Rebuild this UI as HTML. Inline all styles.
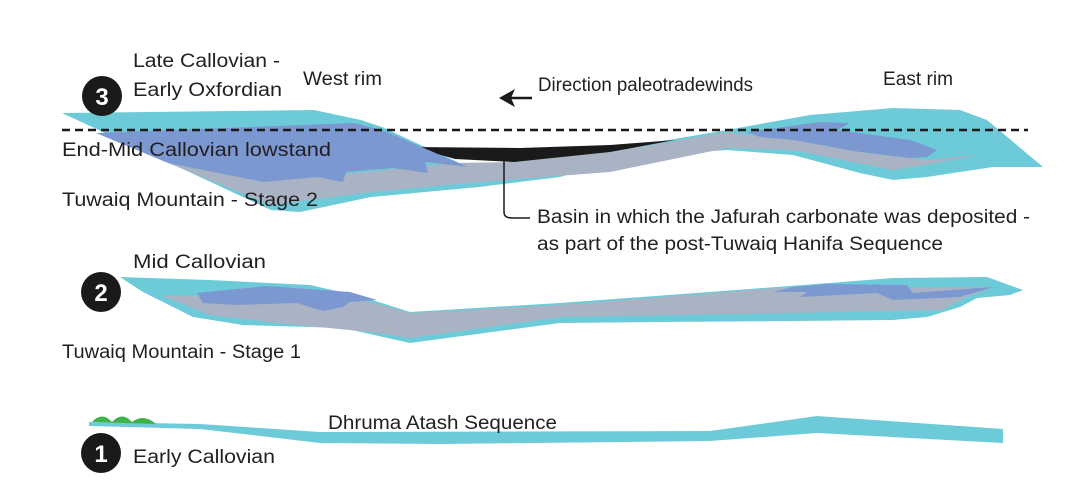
<!DOCTYPE html>
<html><head><meta charset="utf-8"><style>
html,body{margin:0;padding:0;background:#fff;}
svg{display:block;}
text{font-family:"Liberation Sans",sans-serif;font-size:19px;fill:#231f20;}
.n{font-size:24px;font-weight:bold;fill:#fff;}
</style></head><body>
<svg width="1068" height="501" viewBox="0 0 1068 501" xmlns="http://www.w3.org/2000/svg">
<!-- Section 3 -->
<path d="M62,113 L314,110 L361,120 L382,127 L468,167 L610,150 L727,130 L810,115 L893,108 L960,110 L987,120 L1043,167 L993,167 L927,177 L893,180 L860,173 L793,155 L727,150 L627,157 L560,177 L479,187 L371,197 L300,212 L271,210 Z" fill="#6dcbd9"/>
<path d="M168,163 L264,182 L455,163 L514,162 L610,152 L727,132 L793,140 L860,152 L927,160 L977,155 L937,163 L893,170 L843,160 L793,150 L727,148 L610,172 L479,182 L371,192 L271,205 Z" fill="#aab3c3"/>
<path d="M412,147 L455,159 L514,162 L610,152 L675,140 L610,145 L520,148 Z" fill="#1a1a1a"/>
<path d="M96,133 L354,123 L382,130 L468,167 L425,162 L428,173 L393,168 L346,172 L343,182 L318,177 L264,182 L168,163 Z" fill="#7b98d0"/>
<path d="M747,132 L820,122 L850,123 L837,130 L910,140 L937,150 L927,157 L910,158 L860,152 L793,140 L760,137 Z" fill="#7b98d0"/>
<line x1="62" y1="130" x2="1028" y2="130" stroke="#1a1a1a" stroke-width="2.5" stroke-dasharray="8,5"/>
<!-- Section 2 -->
<path d="M120,277 L210,280 L310,285 L363,297 L410,312 L560,303 L777,287 L893,278 L987,277 L1023,290 L1010,295 L977,298 L960,307 L927,317 L893,320 L793,321 L660,322 L560,323 L410,343 L383,337 L343,328 L243,325 L193,317 L143,292 Z" fill="#6dcbd9"/>
<path d="M160,295 L363,300 L410,313 L560,305 L777,288 L993,287 L960,300 L943,310 L793,313 L560,317 L410,338 L370,332 L277,323 L210,315 Z" fill="#aab3c3"/>
<path d="M197,293 L227,290 L267,286 L350,292 L377,300 L350,302 L343,307 L323,311 L297,303 L237,305 L203,303 Z" fill="#7b98d0"/>
<path d="M773,292 L793,287 L827,284 L907,285 L913,293 L993,287 L960,297 L893,300 L877,293 L800,297 L807,292 Z" fill="#7b98d0"/>
<!-- Section 1 -->
<path d="M89,422 L200,424 L320,432 L710,431 L817,416 L1003,429 L1003,443 L817,433 L710,441 L440,444 L320,443 L200,429 L89,426 Z" fill="#6dcbd9"/>
<path d="M92,422 Q102,411 112,422 Q122,411 132,422 Q144,413 156,424 Z" fill="#3db34a"/>
<!-- circles -->
<circle cx="102" cy="96" r="20" fill="#1a1a1a"/><text class="n" x="102" y="105" text-anchor="middle">3</text>
<circle cx="101" cy="292" r="20" fill="#1a1a1a"/><text class="n" x="101" y="301" text-anchor="middle">2</text>
<circle cx="101" cy="453" r="20" fill="#1a1a1a"/><text class="n" x="101" y="462" text-anchor="middle">1</text>
<!-- labels -->
<text x="133" y="67" textLength="147" lengthAdjust="spacingAndGlyphs">Late Callovian -</text>
<text x="133" y="96" textLength="149" lengthAdjust="spacingAndGlyphs">Early Oxfordian</text>
<text x="303" y="85" textLength="79" lengthAdjust="spacingAndGlyphs">West rim</text>
<text x="538" y="91" textLength="215" lengthAdjust="spacingAndGlyphs">Direction paleotradewinds</text>
<text x="883" y="85" textLength="70" lengthAdjust="spacingAndGlyphs">East rim</text>
<text x="62" y="156" textLength="269" lengthAdjust="spacingAndGlyphs">End-Mid Callovian lowstand</text>
<text x="62" y="206" textLength="256" lengthAdjust="spacingAndGlyphs">Tuwaiq Mountain - Stage 2</text>
<text x="537" y="223" textLength="493" lengthAdjust="spacingAndGlyphs">Basin in which the Jafurah carbonate was deposited -</text>
<text x="537" y="250" textLength="406" lengthAdjust="spacingAndGlyphs">as part of the post-Tuwaiq Hanifa Sequence</text>
<text x="133" y="268" textLength="133" lengthAdjust="spacingAndGlyphs">Mid Callovian</text>
<text x="62" y="358" textLength="239" lengthAdjust="spacingAndGlyphs">Tuwaiq Mountain - Stage 1</text>
<text x="328" y="429" textLength="229" lengthAdjust="spacingAndGlyphs">Dhruma Atash Sequence</text>
<text x="133" y="463" textLength="142" lengthAdjust="spacingAndGlyphs">Early Callovian</text>
<!-- arrow -->
<line x1="508" y1="98" x2="532" y2="98" stroke="#1a1a1a" stroke-width="2.5"/>
<path d="M499,98 L515,89 L511,98 L515,107 Z" fill="#1a1a1a"/>
<!-- connector -->
<path d="M504,160 L504,212 Q504,218 512,218 L530,218" fill="none" stroke="#1a1a1a" stroke-width="1.5"/>
</svg>
</body></html>
